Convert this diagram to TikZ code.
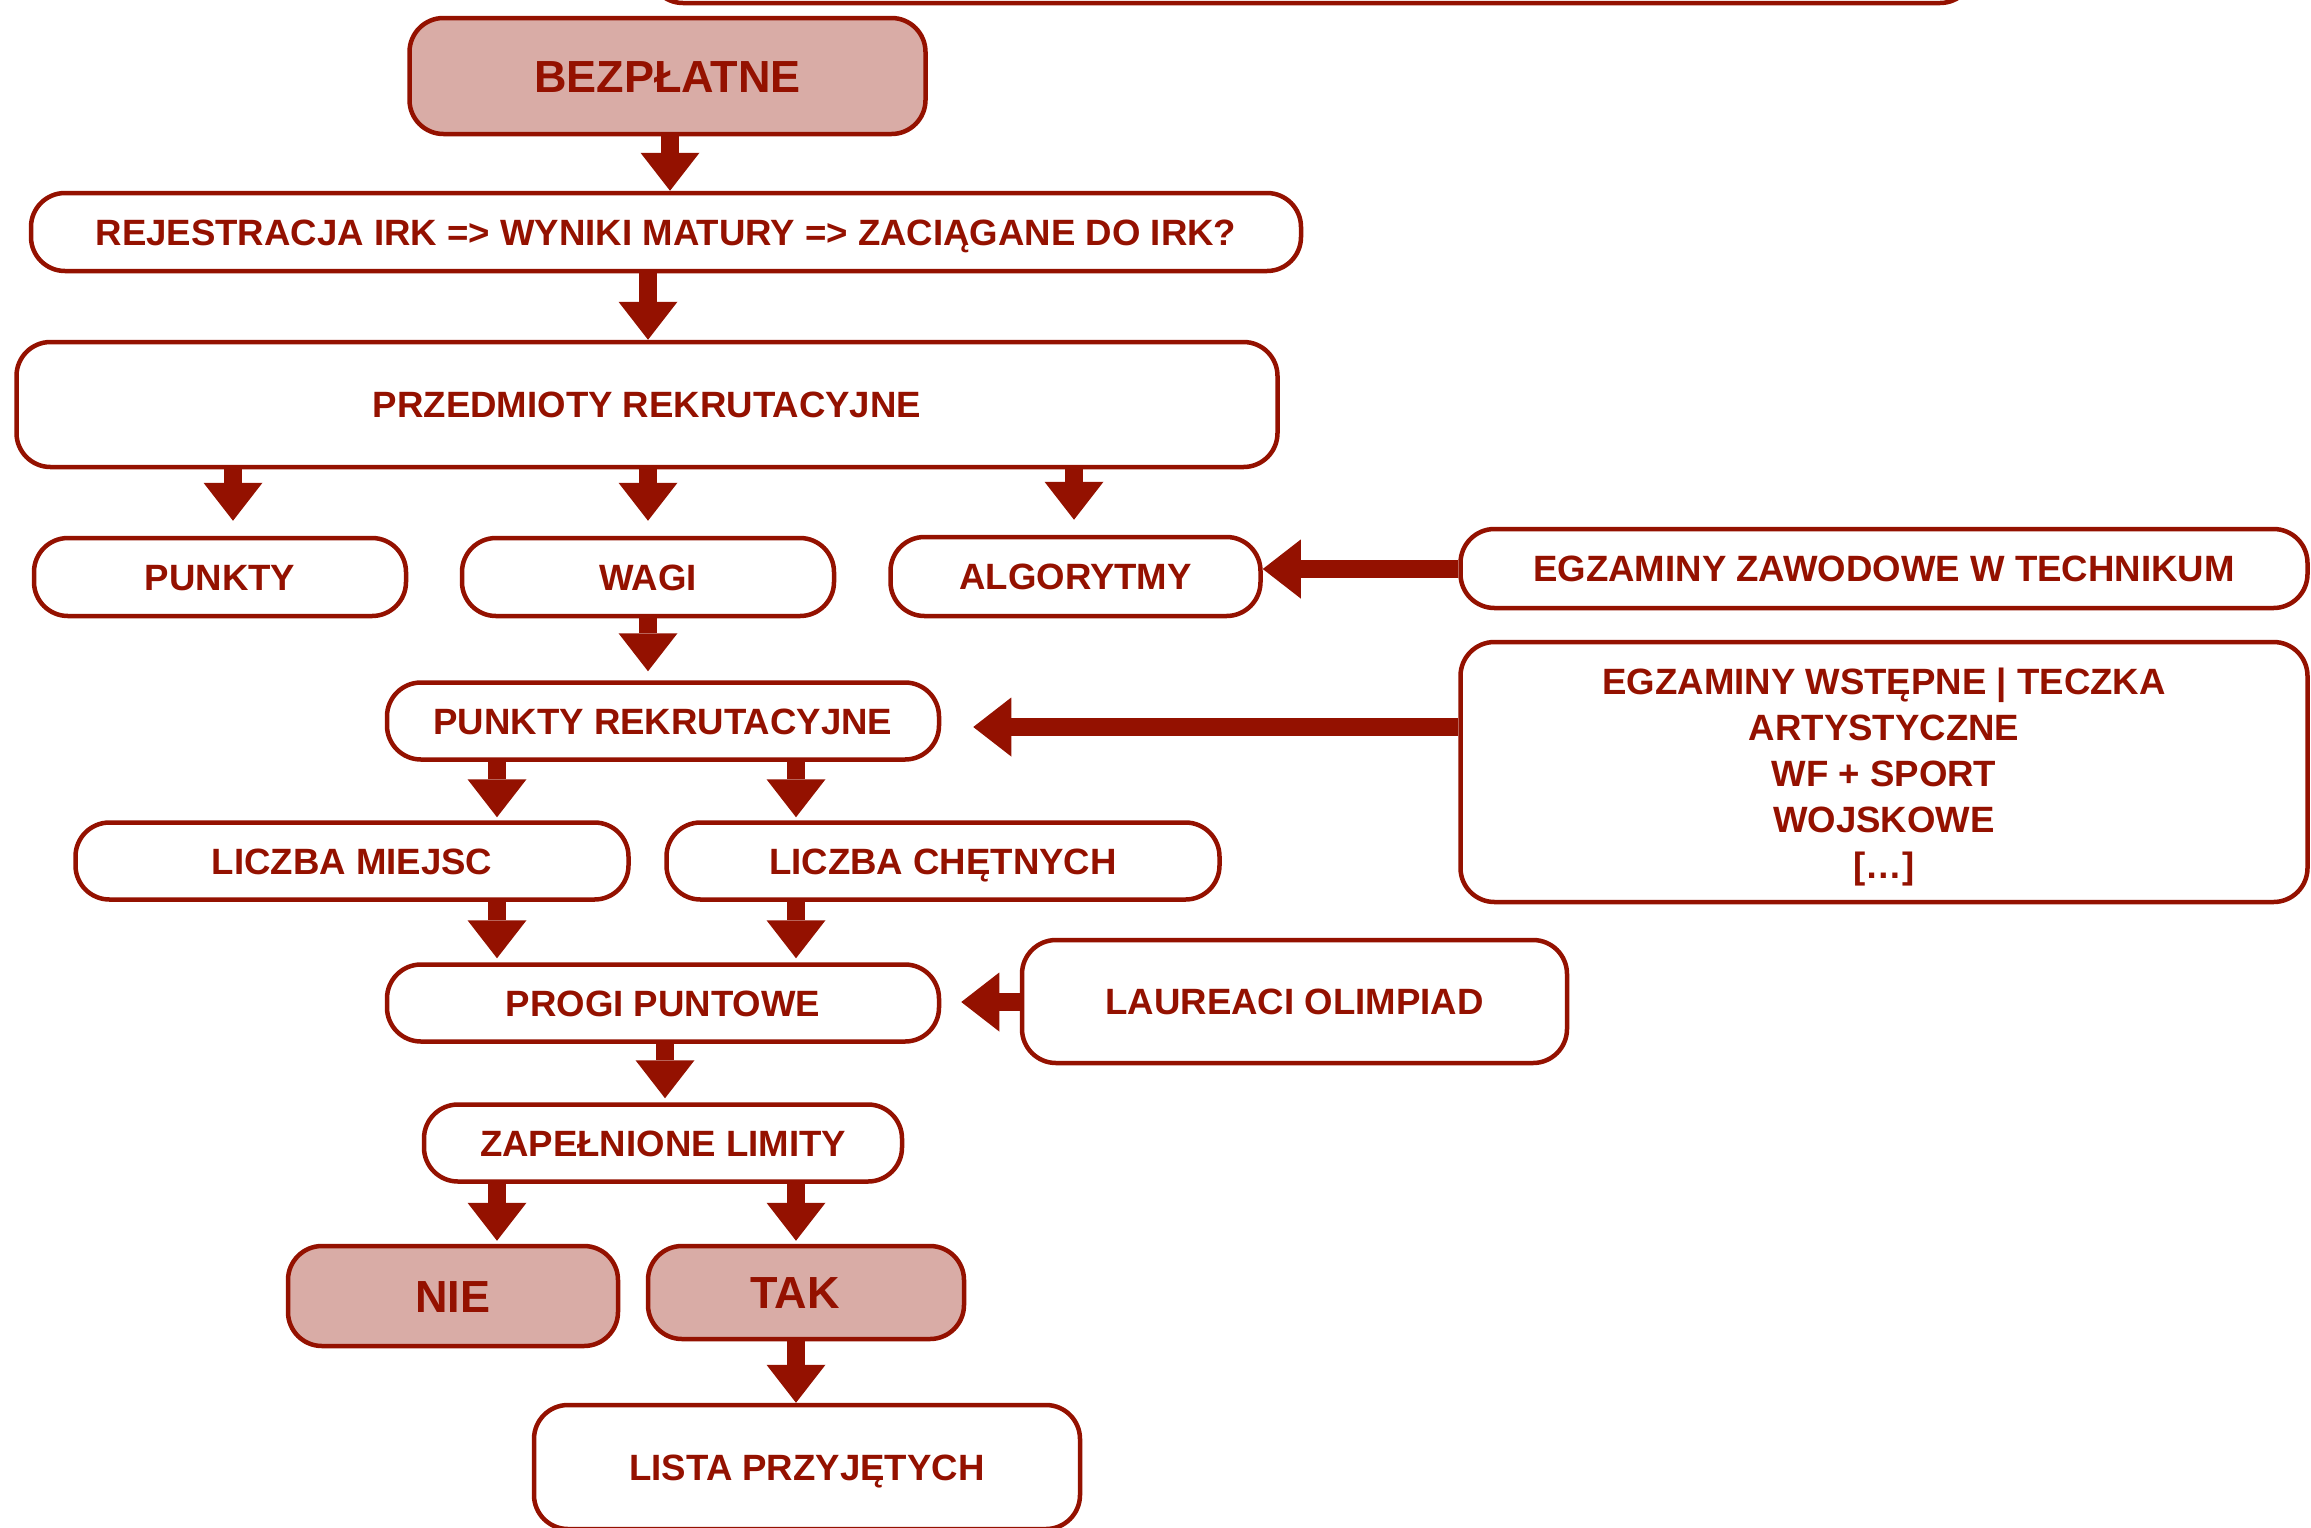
\documentclass[tikz,border=0pt]{standalone}
\usepackage{fontspec}
\setmainfont{Liberation Sans}
\usetikzlibrary{arrows.meta}
\definecolor{cay}{RGB}{148,17,0}
\definecolor{pinkf}{RGB}{217,172,166}
\tikzset{
  box/.style={draw=cay, line width=4.5pt, rounded corners=34pt, fill=white, inner sep=0pt,
    text=cay, align=center, font=\bfseries\fontsize{36.6}{46}\selectfont},
  one/.style={box, text height=26.5pt, text depth=0pt},
  hot/.style={one, fill=pinkf, font=\bfseries\fontsize{45}{54}\selectfont, text height=32.5pt},
  arr/.style={draw=cay, line width=18.5pt, -{Triangle[length=38pt,width=59pt,line width=0pt]}}
}
\begin{document}
\begin{tikzpicture}[x=1pt,y=-1pt]
\useasboundingbox (0,0) rectangle (2311,1527);
\clip (0,0) rectangle (2311,1527);
% nodes
\node[box, minimum width=1325pt, minimum height=200pt] (topbox) at (1311.5,-97) {};
\node[hot, minimum width=516pt, minimum height=116pt] (bez) at (667.5,76) {BEZPŁATNE};
\node[one, minimum width=1270pt, minimum height=78pt] (rej) at (666,232) {REJESTRACJA IRK => WYNIKI MATURY => ZACIĄGANE DO IRK?};
\node[one, minimum width=1261pt, minimum height=125pt] (prz) at (647,404.5) {PRZEDMIOTY REKRUTACYJNE};
\node[one, minimum width=372pt, minimum height=78pt] (punkty) at (220,577) {PUNKTY};
\node[one, minimum width=372pt, minimum height=78pt] (wagi) at (648,577) {WAGI};
\node[one, minimum width=370pt, minimum height=79pt] (algo) at (1075.5,576.5) {ALGORYTMY};
\node[one, minimum width=847pt, minimum height=79pt] (egzz) at (1884,568.5) {EGZAMINY ZAWODOWE W TECHNIKUM};
\node[box, minimum width=847pt, minimum height=260pt] (egzw) at (1884,772) {\parbox{800pt}{\centering\vspace*{11pt}EGZAMINY WSTĘPNE | TECZKA\\ARTYSTYCZNE\\WF + SPORT\\WOJSKOWE\\{[\ldots]}}};
\node[one, minimum width=552pt, minimum height=77pt] (pr) at (663,721) {PUNKTY REKRUTACYJNE};
\node[one, minimum width=553pt, minimum height=77pt] (lm) at (352,861) {LICZBA MIEJSC};
\node[one, minimum width=553pt, minimum height=77pt] (lc) at (943,861) {LICZBA CHĘTNYCH};
\node[one, minimum width=552pt, minimum height=77pt] (progi) at (663,1003) {PROGI PUNTOWE};
\node[one, minimum width=545pt, minimum height=123pt] (laur) at (1294.5,1001.5) {LAUREACI OLIMPIAD};
\node[one, minimum width=478pt, minimum height=77pt] (zap) at (663,1143) {ZAPEŁNIONE LIMITY};
\node[hot, minimum width=330pt, minimum height=100pt] (nie) at (453,1296) {NIE};
\node[hot, minimum width=316pt, minimum height=93pt] (tak) at (806,1292.5) {TAK\hspace*{22pt}};
\node[one, minimum width=546pt, minimum height=124pt] (lista) at (807,1467) {LISTA PRZYJĘTYCH};
% x positions of connectors
\coordinate (xa) at (670,0);
\coordinate (xb) at (648,0);
\coordinate (xc) at (233,0);
\coordinate (xd) at (1074,0);
\coordinate (xe) at (497,0);
\coordinate (xf) at (796,0);
\coordinate (xg) at (665,0);
% connectors
\draw[arr] (bez.south -| xa) -- (rej.north -| xa);
\draw[arr] (rej.south -| xb) -- (prz.north -| xb);
\draw[arr, shorten >=15pt] (prz.south -| xc) -- (punkty.north -| xc);
\draw[arr, shorten >=15pt] (prz.south -| xb) -- (wagi.north -| xb);
\draw[arr, shorten >=15pt] (prz.south -| xd) -- (algo.north -| xd);
\draw[arr, shorten >=9pt] (wagi.south -| xb) -- (pr.north -| xb);
\draw[arr, shorten >=3pt] (pr.south -| xe) -- (lm.north -| xe);
\draw[arr, shorten >=3pt] (pr.south -| xf) -- (lc.north -| xf);
\draw[arr, shorten >=4pt] (lm.south -| xe) -- (progi.north -| xe);
\draw[arr, shorten >=4pt] (lc.south -| xf) -- (progi.north -| xf);
\draw[arr, shorten >=4pt] (progi.south -| xg) -- (zap.north -| xg);
\draw[arr, shorten >=3pt] (zap.south -| xe) -- (nie.north -| xe);
\draw[arr, shorten >=3pt] (zap.south -| xf) -- (tak.north -| xf);
\draw[arr] (tak.south -| xf) -- (lista.north -| xf);
\draw[arr] (egzz.west |- 0,569) -- (algo.east |- 0,569);
\draw[arr, shorten >=32pt] (egzw.west |- 0,727) -- (pr.east |- 0,727);
\draw[arr, shorten >=20pt] (laur.west |- 0,1002) -- (progi.east |- 0,1002);
\end{tikzpicture}
\end{document}
